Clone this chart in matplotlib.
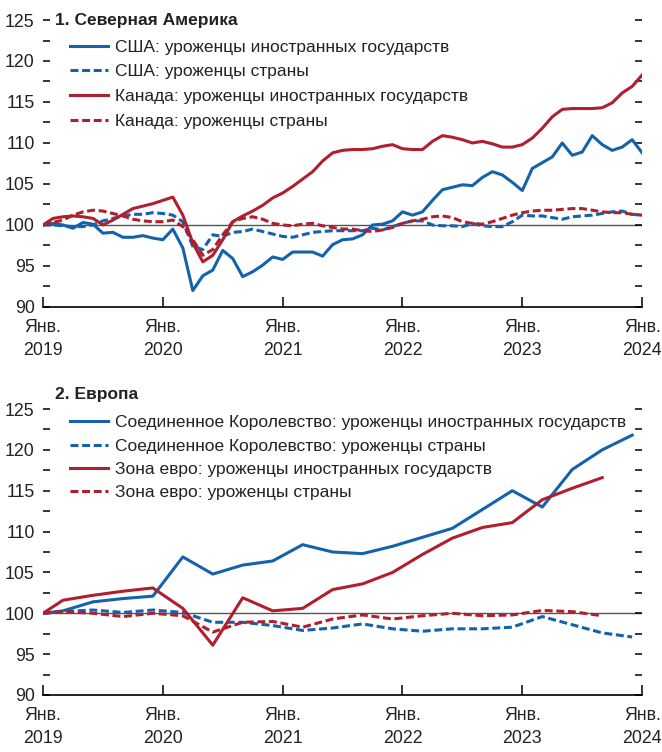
import numpy as np
import matplotlib.pyplot as plt
from matplotlib.ticker import MultipleLocator

plt.rcParams['font.family'] = ['Liberation Sans', 'DejaVu Sans']

# --- panel 1: monthly, Jan 2019 .. Jan 2024 ---
months = np.arange(61)
us_foreign = [100, 100.2, 100, 99.6, 100.3, 100.1, 99.0, 99.1, 98.5, 98.5,
              98.7, 98.4, 98.2, 99.5, 97.2, 92.0, 93.8, 94.5, 96.9, 95.9,
              93.7, 94.3, 95.1, 96.1, 95.8, 96.7, 96.7, 96.7, 96.2, 97.6,
              98.2, 98.3, 98.8, 100.0, 100.1, 100.5, 101.6, 101.2, 101.6, 103.0,
              104.3, 104.6, 104.9, 104.8, 105.8, 106.5, 106.1, 105.2, 104.2, 106.9,
              107.6, 108.3, 110.0, 108.5, 108.9, 110.9, 109.8, 109.1, 109.5, 110.4,
              108.8]
us_native = [100, 100, 99.9, 99.8, 99.8, 100, 100.5, 100.8, 101.1, 101.3,
             101.3, 101.5, 101.4, 101.2, 100.4, 97.4, 97.0, 98.8, 98.6, 99.1,
             99.2, 99.5, 99.2, 98.9, 98.6, 98.5, 98.8, 99.1, 99.2, 99.3,
             99.3, 99.3, 99.3, 99.6, 99.4, 99.8, 100.2, 100.5, 100.5, 100.0,
             99.9, 99.9, 99.8, 100.2, 99.9, 99.8, 99.8, 100.4, 101.2, 101.1,
             101.1, 100.9, 100.7, 101.0, 101.1, 101.2, 101.4, 101.6, 101.7, 101.3,
             101.2]
ca_foreign = [100, 100.8, 101.0, 101.1, 101.0, 100.8, 100.0, 100.6, 101.3, 102.0,
              102.3, 102.6, 103.0, 103.4, 101.2, 97.8, 95.5, 96.3, 98.2, 100.4,
              101.1, 101.7, 102.4, 103.3, 103.9, 104.7, 105.6, 106.5, 107.8, 108.8,
              109.1, 109.2, 109.2, 109.3, 109.6, 109.8, 109.3, 109.2, 109.2, 110.2,
              110.9, 110.7, 110.4, 110.0, 110.2, 109.9, 109.5, 109.5, 109.8, 110.6,
              111.8, 113.2, 114.1, 114.2, 114.2, 114.2, 114.3, 114.9, 116.1, 116.9,
              118.3]
ca_native = [100, 100.3, 100.6, 101.2, 101.6, 101.8, 101.7, 101.4, 101.1, 100.7,
             100.5, 100.4, 100.4, 100.6, 99.8, 98.2, 96.3, 97.0, 98.8, 100.4,
             100.8, 101.0, 100.7, 100.2, 100.0, 99.9, 100.1, 100.2, 99.9, 99.7,
             99.5, 99.5, 99.3, 99.2, 99.4, 99.7, 100.2, 100.5, 100.7, 101.0,
             101.1, 100.9, 100.4, 100.2, 100.1, 100.4, 100.8, 101.2, 101.5, 101.7,
             101.8, 101.8, 101.9, 102.0, 102.0, 101.8, 101.6, 101.5, 101.5, 101.3,
             101.2]

# --- panel 2: quarterly (months since Jan 2019) ---
q_months_uk = [0, 2, 5, 8, 11, 14, 17, 20, 23, 26, 29, 32, 35, 38, 41, 44, 47, 50, 53, 56, 59]
uk_foreign = [100, 100.3, 101.4, 101.8, 102.1, 106.9, 104.8, 105.9, 106.4, 108.4, 107.5,
              107.3, 108.2, 109.3, 110.4, 112.7, 115.0, 113.0, 117.6, 120.0, 121.8]
uk_native = [100, 100.2, 100.4, 100.1, 100.4, 100.1, 98.9, 98.9, 98.5, 97.9, 98.2,
             98.7, 98.1, 97.8, 98.1, 98.1, 98.3, 99.6, 98.6, 97.6, 97.1]
q_months_ez = q_months_uk[:-1]
ez_foreign = [100, 101.6, 102.2, 102.7, 103.1, 100.6, 96.1, 101.9, 100.3, 100.6,
              102.9, 103.6, 105.0, 107.2, 109.2, 110.5, 111.1, 113.9, 115.3, 116.6]
ez_native = [100, 100.2, 100.0, 99.6, 100.0, 99.7, 97.7, 98.9, 99.0, 98.3,
             99.3, 99.8, 99.3, 99.7, 100.0, 99.7, 99.8, 100.35, 100.2, 99.7]

years = [2019, 2020, 2021, 2022, 2023, 2024]
xtick_labels = ['Янв.\n%d' % y for y in years]

blue = '#1262ad'
red = '#b01f2e'
lw = 2.2
dash = (2.6, 1.2)
fs = 12.5
tfs = 12.8

fig = plt.figure(figsize=(6.62, 7.52), dpi=100)
ax1 = fig.add_axes([0.065, 0.5918, 0.905, 0.3816])
ax2 = fig.add_axes([0.065, 0.0758, 0.905, 0.3803])


def style(ax):
    ax.set_xlim(0, 60)
    ax.set_ylim(90, 125)
    ax.axhline(100, color='#555555', lw=1, zorder=1)
    for s in ['left', 'right', 'top']:
        ax.spines[s].set_visible(False)
    ax.spines['bottom'].set_linewidth(1.2)
    ax.set_xticks([0, 12, 24, 36, 48, 60])
    ax.set_xticklabels(xtick_labels, fontsize=tfs, color='#222222', linespacing=1.45)
    ax.yaxis.set_major_locator(MultipleLocator(5))
    ax.yaxis.set_minor_locator(MultipleLocator(2.5))
    ax.tick_params(axis='x', direction='in', length=7, width=1.1, pad=9)
    ax.tick_params(axis='y', which='both', direction='in', left=True, right=True,
                   length=5, width=1.1, pad=6, labelsize=tfs, labelcolor='#222222')


ax1.plot(months, us_foreign, color=blue, lw=lw, label='США: уроженцы иностранных государств')
ax1.plot(months, us_native, color=blue, lw=lw, dashes=dash, label='США: уроженцы страны')
ax1.plot(months, ca_foreign, color=red, lw=lw, label='Канада: уроженцы иностранных государств')
ax1.plot(months, ca_native, color=red, lw=lw, dashes=dash, label='Канада: уроженцы страны')
style(ax1)
ax1.text(0.02, 1.0, '1. Северная Америка', transform=ax1.transAxes, fontsize=fs,
         fontweight='bold', va='center', ha='left', color='#222222')
ax1.legend(loc='upper left', bbox_to_anchor=(0.045, 0.932), frameon=False, fontsize=fs,
           handlelength=2.2, handletextpad=0.4, labelspacing=0.55, borderpad=0,
           borderaxespad=0, labelcolor='#222222')

ax2.plot(q_months_uk, uk_foreign, color=blue, lw=lw,
         label='Соединенное Королевство: уроженцы иностранных государств')
ax2.plot(q_months_uk, uk_native, color=blue, lw=lw, dashes=dash,
         label='Соединенное Королевство: уроженцы страны')
ax2.plot(q_months_ez, ez_foreign, color=red, lw=lw, label='Зона евро: уроженцы иностранных государств')
ax2.plot(q_months_ez, ez_native, color=red, lw=lw, dashes=dash, label='Зона евро: уроженцы страны')
style(ax2)
ax2.text(0.02, 1.05, '2. Европа', transform=ax2.transAxes, fontsize=fs,
         fontweight='bold', va='center', ha='left', color='#222222')
ax2.legend(loc='upper left', bbox_to_anchor=(0.045, 0.978), frameon=False, fontsize=fs,
           handlelength=2.2, handletextpad=0.4, labelspacing=0.46, borderpad=0,
           borderaxespad=0, labelcolor='#222222')

fig.savefig('out.png', dpi=100)
